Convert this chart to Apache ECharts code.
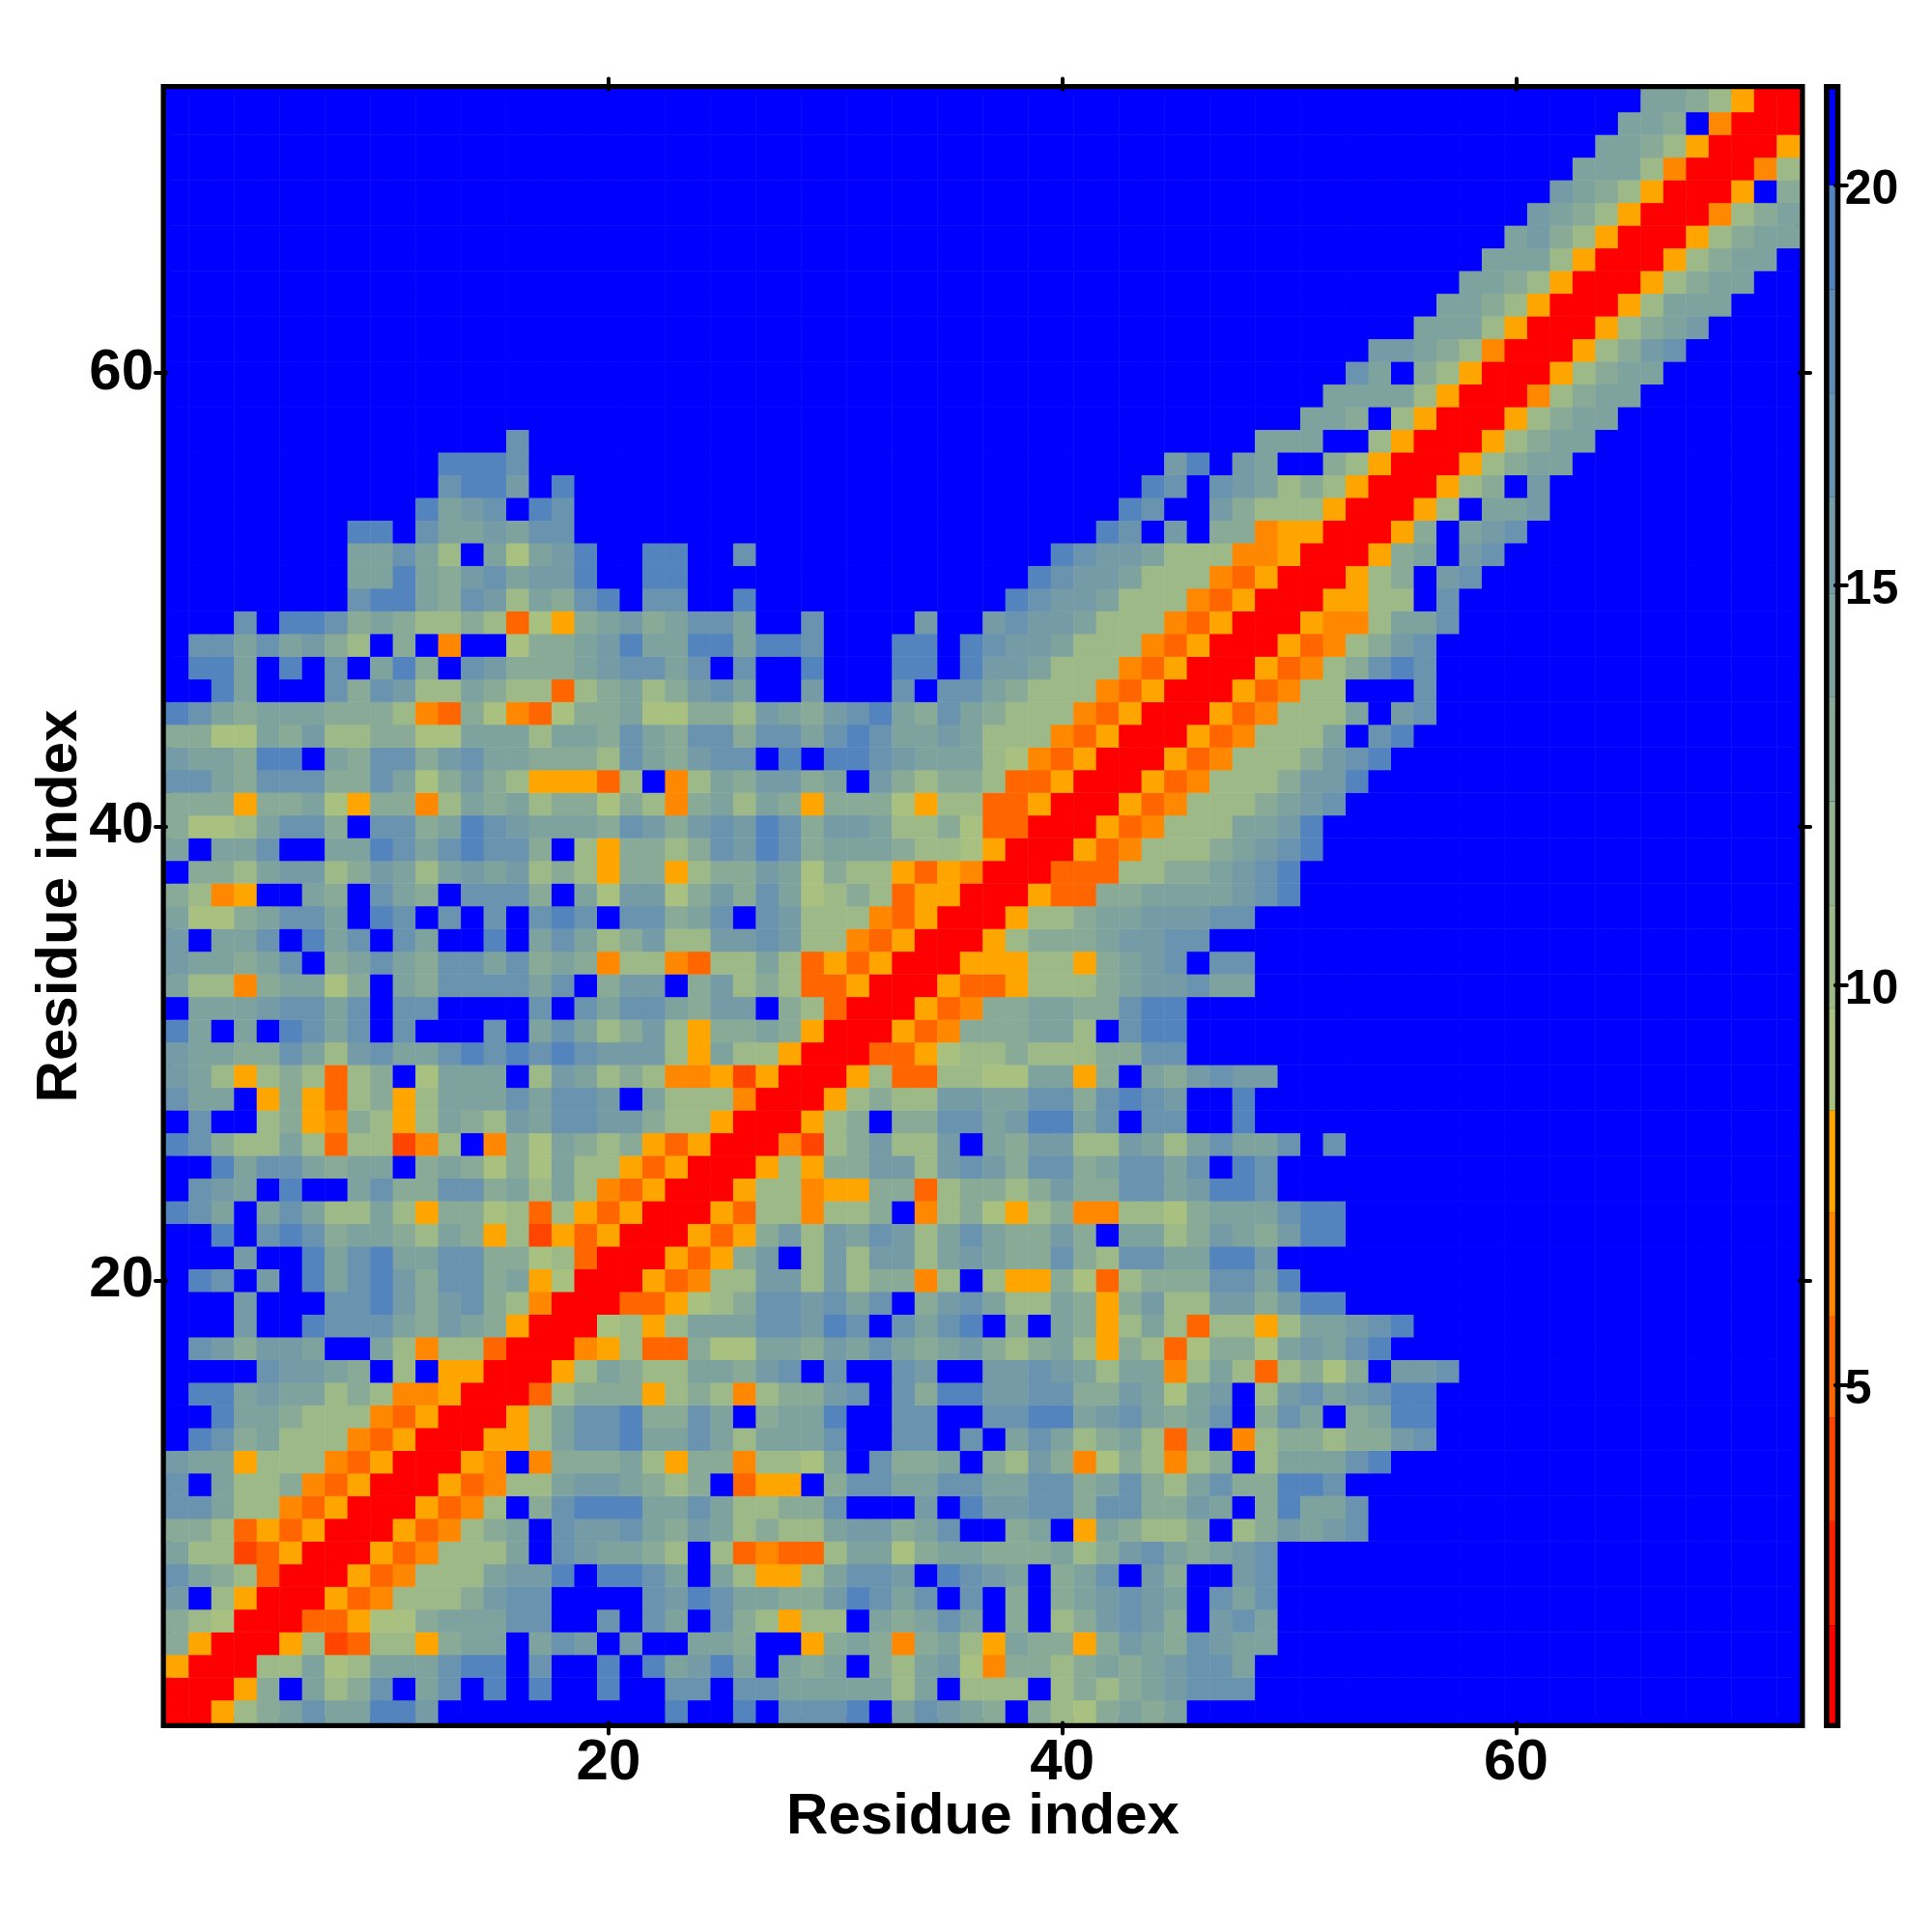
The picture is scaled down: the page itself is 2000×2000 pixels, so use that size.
<!DOCTYPE html>
<html><head><meta charset="utf-8">
<style>html,body{margin:0;padding:0;background:#fff}#c{width:2000px;height:2000px}</style>
<script src="https://cdn.jsdelivr.net/npm/echarts@6/dist/echarts.min.js"></script>
</head><body><div id="c"></div>
<script>
// Distance level for each cell, one string per row, residue 1 first.
// Letters are levels (see levelValues); a number is a run of that many out-of-range cells;
// cells missing at the end of a row are out of range too.
const rowCodes = [
"RRYbcdfddggeBBBBBB BBBBgBBgBfffgBdfedc Bcbacdcd",
"RRRYcBdbcfBdfBgBgB BgBBffBffdddddbdBbb bBbcbcdefff",
"YRRRbbdabdddfggBfB BgBgdegdBdcdBcbdeaM ccbcdcdeffd",
"cYRRRYbOobbYcddBdf eBeBBddcBBYcdcMcdbY dccYcedcfedd",
"cbaRRRooYaacdddffB BfBfdBfcbYbbBdcdfdB cBbcefecBefd",
"eBbYRRRYoMbbbceffB BBBfegfddccegfdfBfB cBcdefedBfdf",
"fdcboRRRYoMbbbdeeg BggfdBdbYYbdffeBgfe dBcdfBecBBef",
"dbbOoYRRRYoMbbbdBf eddcbBboMoobddacddc ccdbcefdcdef",
"ccboYoYRRRYoMbcdBf eefdcedbcbbdeecdfBB cdBYdcbbcBbcedef",
"ffdbbMoYRRRYoMbBcf gggddfdbbccfBBBeBge effcffccedBcgddf",
"fBdbbcMoYRRRYoMbbd eedcbcBoYYBcffddffd dffcdfcbdfccggf",
"eddYbbbMoYRRRYMBMc ccdbYccMbbadBfccdBc becMacbMbcBbdddfg",
"BgfcdbbbMoYRRRYYbd ffgddfdbdddfBBffBfB dfdbcdbocBMbccbccef",
"BBgddcbbbMoYRRRYbd ffgccfdBcddgBBffBBf fggdefdcdfBcfdBcdgg",
"BggdeddbcbMMYRRRob cccYbcbMbccefBfcgge effccedadeBbefdefgg",
"BBBBfeedcBbBYYRRRY bdcbbddcefBfBBfeBBe efedbddMbdbobcacBeef",
"BfeceedBBdbMbboRRR MYboocaaddcedfdcdec bcdbYcboaccadedfg",
"BBBeBBgfffdcedcYRR RabYbdddffegfBfdfgB cBdcYbdbobbYbddefg",
"BBBeBBBffgecefcbMR RRooYabcffefdfBcefd bbdcYcebbeecegg",
"BgfBeBgdfgecffcdYa RRRYoMbbeebebccMbBb YYcaobcccffdg",
"BBBeBBgdfgddffccab oRRRYoYceBbebeebded ccfcbffddgge",
"BBgBfgfcddcbdcYbOY oYRRRYoYcebedfebdfd ccecBddbcedcegg",
"gfdBdfdbbdbYccabob YoYRRRYobbMbbcBMbca YbcMMbbacdddfgg",
"BfedBgBBdfccffcdbd bMoYRRRYbbMYYccobcc bceccffdeggf",
"BBgdffdcddBcdcacad bbYoYRRRYbYcceebefe cffcdffdfBgf",
"gfcbbdbobbOMbBMcad cbcYoYRRRMObcebbeBd ceebbedbdfddfBf",
"BfBBbcYMcbYbdcbedf feecbbYRRRYbcBccffd eggdfBffBBg",
"fddBYcYobcYbdddfdf feBdbbbMRRRYbcbbeed dffcfgfeBBg",
"edbYbcbobcBadddBbe dbcbMMYOYRRRYboobba addYcBdcefee",
"eddccfdbefddfgfgfg feeebYdbbYRRRooYabb cbbbccff",
"gdBdBgfdfBfBBBfBdf dbcebYccdcYRRRYoMcc cddbBfgg",
"BdddeffdfBffBBBBfB fdffdceeBcboRRRYoMc cddccfgg",
"dbbMcddacBdcffffdf BceeBcebcbooYRRRYoo Ybbbcdeefdd",
"eddcdfBcdfdcffdfcd cMbbMobbdboYoYRRRYY YbbYcdefBff",
"eBddfBgdfBfdBBgBdf dbcebbeefebbMoYRRRY bcccdeeff",
"daacdffdBgfBfBfBfg fBffcdfBfebbbMoYRRR Ybbcddeeeff",
"cbMYBBdcBfdcBfffcB daeeacecfdabcboYYRR RYooccddddefg",
"Bccbdeebcedbdedebc bYccYbccedacbbYoYMR RRooobbccdefg",
"dBddfBBddgfdfgffcB bYccbcfegfcdddcbbaY RRRYoMbbbcdefg",
"caabdffcBffcdgfedd dcfecefegfceedbbcao oRRRYoMbbbddeg",
"cccYccdaYccMbdcdbc cacbMcdbdcYcccaYbbo oYRRRYoMbbbcdef",
"ffdcfffccfdacecbYY YobBMbdceecdBecbccb ooYRRRYoMbbbceeg",
"eddcggBdcffcefddcc cbfdceffBgBggfedddb aMoYRRRYoMbbbcefg",
"ccaadcebbccaadddbd dcfdcffcffdfgfddedb bbMoYRRRYoMbbbdBfg",
"gfdcdddcccbMocaMoa ccdaaccbedcefgdcfdc bbbMoYRRRYoMbbbdBef",
"BBgdBBBfcfebbdcbbo bcdbcefdBBeBBBfBffd cbbbMoYRRRYoMbbBBBf",
"BggdBgBfBdgcBfeccc deffdfBfBBgBBBggBge edbbbMoYRRRYoMbcfgf",
"BffdfdecbBcBMBBacc degddggdggfBBBggBgf eedbbbMoYRRRYoMbcef",
"BBBfBggfcdcbbcboaY cdecdffdBBfBBBBeBBe feedbbbMoYRRRYMMbddf",
"8fggdcfebdc fgBffBBg11 gfeedbbbMoYRRRYYbbBf",
"8ddgdcefdee gBBgg14 BgfeedbbbMoYRRRYbcBef",
"8ddfdbBdade gBBggBBf11 BBgfeedbbbMMYRRRYcdBef",
"8ggBfddedff 23gfBeBccMYYRRRYcBdef",
"11gdefBgf 24gfBBecbbbYRRRYbBdde",
"12fggeBg 25gfBfedbcbYRRRYbcBe",
"12gggf 28egBedBBcbYRRRYbcdd",
"15f 32dddBBbYRRRYbcdd",
"50ddcBbYRRRYbcdd",
"51ddddbYRRRMbcdd",
"52fdBcbYRRRYbcdd",
"53eedcbMRRRYbcef",
"55dddbYRRRYbcde",
"56ddcbYRRRYbddd",
"57ddcbYRRRYbcdd",
"58dddbYRRRYbcdd",
"59decbYRRRYbcdd",
"60edcbYRRRMbcd",
"61edcbYRRRYBc",
"62dddbMRRRMb",
"63ddcbYRRRY",
"64ddcBMRRR",
"65ddcbYRR"
];
const levelValues = {R:1.4,O:4,o:5.2,M:6.5,Y:7.8,a:9.1,b:10.4,c:12.9,d:14.2,e:15.5,f:16.8,g:19.3,B:20.6};
const residues = Array.from({length:72},(_,i)=>String(i+1));
const bandEdges = [0.78,2.0,3.3,4.6,5.87,7.16,8.44,9.72,11.0,12.3,13.6,14.9,16.1,17.4,18.7,20,21.2];
const bandColors = ['#FF0000','#FF2200','#FF4500','#FF6600','#FF8800','#FFA500','#A8C180','#9EB988','#93B28F','#89AA97','#7EA39E','#749BA6','#6993AE','#5F8CB5','#5484BD','#0000FF'];
const colorbarTicks = [5,10,15,20];
const residueTicks = [20,40,60];
const axisTitle = 'Residue index';

const cells = [];
rowCodes.forEach((code,r)=>{
  const expanded = code.replace(/\s+/g,'').replace(/\d+/g,n=>'B'.repeat(+n)).padEnd(72,'B').slice(0,72);
  for(let c=0;c<72;c++) cells.push([c,r,levelValues[expanded[c]]]);
});
const showTick = (i,v)=>residueTicks.includes(+v);
const font = {fontFamily:'"Liberation Sans",Arial,sans-serif',fontWeight:'bold',color:'#000'};
const tick = {show:true,interval:showTick,alignWithLabel:true,length:11,lineStyle:{color:'#000',width:4,cap:'round'}};
const catAxis = (extra)=>Object.assign({type:'category',data:residues,gridIndex:0,axisLine:{show:false},axisTick:tick,splitLine:{show:false},splitArea:{show:false},z:6},extra);
const chart = echarts.init(document.getElementById('c'),null,{renderer:'canvas'});
chart.setOption({
  animation:false,
  backgroundColor:'#fff',
  grid:[
    {left:172,top:92.5,width:1691,height:1691,show:true,outerBoundsMode:'none',borderColor:'#000',borderWidth:11,backgroundColor:'transparent'},
    {left:1893.6,top:92.5,width:6.2,height:1691,show:true,outerBoundsMode:'none',borderColor:'#000',borderWidth:11,backgroundColor:'transparent'}
  ],
  xAxis:[
    catAxis({position:'bottom',name:axisTitle,nameLocation:'middle',nameGap:68,nameMoveOverlap:false,nameTextStyle:Object.assign({fontSize:60},font),
      axisLabel:Object.assign({show:true,interval:showTick,fontSize:60,margin:12},font)}),
    catAxis({position:'top',axisLabel:{show:false}}),
    {type:'category',data:['bar'],gridIndex:1,axisLine:{show:false},axisTick:{show:false},axisLabel:{show:false},splitLine:{show:false}}
  ],
  yAxis:[
    catAxis({position:'left',name:axisTitle,nameLocation:'middle',nameGap:80,nameMoveOverlap:false,nameTextStyle:Object.assign({fontSize:60},font),
      axisLabel:Object.assign({show:true,interval:showTick,fontSize:60,margin:13},font)}),
    catAxis({position:'right',axisLabel:{show:false}}),
    {type:'value',gridIndex:1,position:'right',min:bandEdges[0],max:bandEdges[bandEdges.length-1],
      axisLine:{show:false},splitLine:{show:false},z:6,
      axisTick:{show:true,length:12,customValues:colorbarTicks,lineStyle:{color:'#000',width:4,cap:'round'}},
      axisLabel:Object.assign({show:true,fontSize:50,margin:10,verticalAlign:'top',lineHeight:10,customValues:colorbarTicks},font)}
  ],
  visualMap:{type:'piecewise',show:false,seriesIndex:0,dimension:2,
    pieces:bandColors.map((color,i)=>({gte:bandEdges[i],lt:bandEdges[i+1],color}))},
  series:[
    {type:'heatmap',xAxisIndex:0,yAxisIndex:0,data:cells,progressive:0,emphasis:{disabled:true},itemStyle:{borderWidth:0}}
  ].concat(bandColors.map((color,i)=>({
    type:'bar',xAxisIndex:2,yAxisIndex:2,stack:'band',barWidth:'100%',silent:true,
    itemStyle:{color},data:[i===0?bandEdges[1]:bandEdges[i+1]-bandEdges[i]]
  })))
});
</script></body></html>
